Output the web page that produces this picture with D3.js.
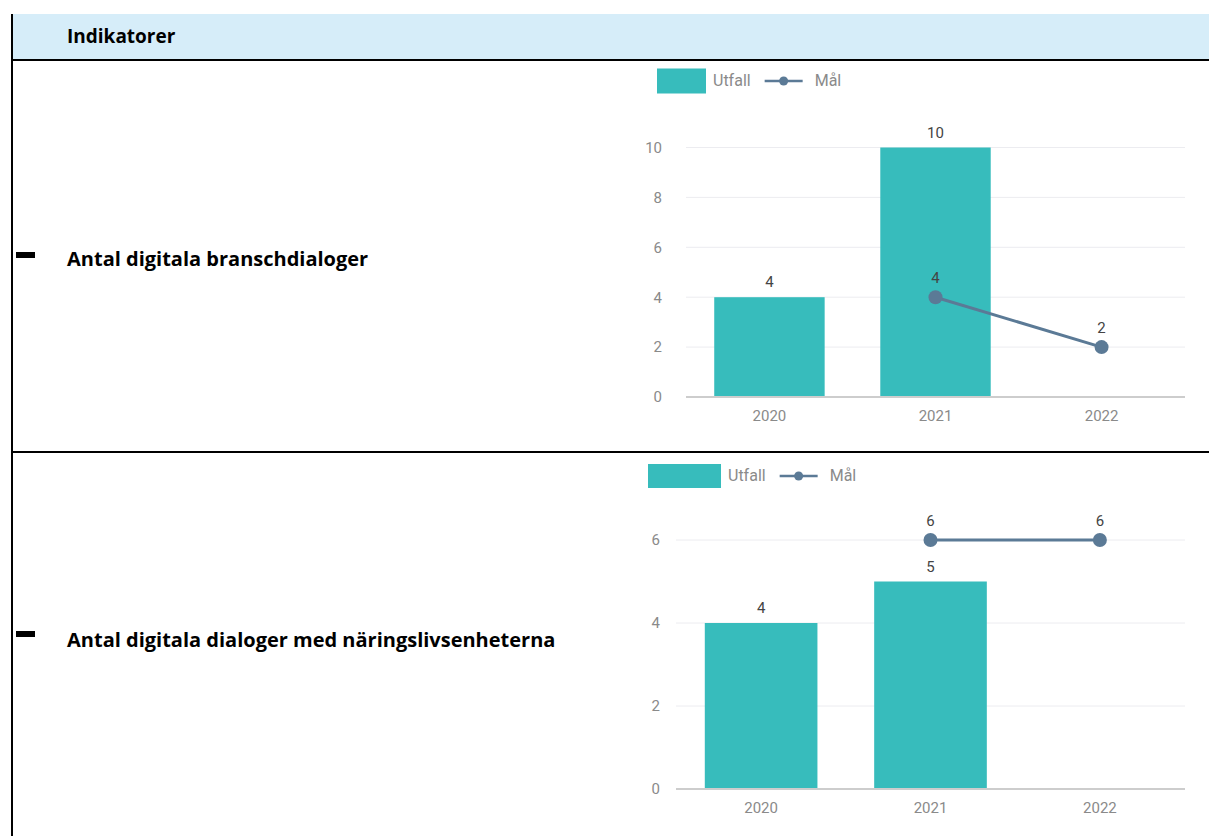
<!DOCTYPE html>
<html>
<head>
<meta charset="utf-8">
<script src="https://cdn.jsdelivr.net/npm/d3@7"></script>
<style>
  body { margin: 0; background: #fff; }
  svg { display: block; }
</style>
</head>
<body>
<div id="page"></div>
<script>
// Data
const years = ['2020', '2021', '2022'];
const legendLabels = ['Utfall', 'Mål'];
const headerLabel = 'Indikatorer';
const rowLabels = ['Antal digitala branschdialoger', 'Antal digitala dialoger med näringslivsenheterna'];

const utfall1 = [4, 10, null];
const mal1 = [null, 4, 2];
const yTicks1 = [0, 2, 4, 6, 8, 10];

const utfall2 = [4, 5, null];
const mal2 = [null, 6, 6];
const yTicks2 = [0, 2, 4, 6];

const barColor = '#37bcbc';
const lineColor = '#5b7a96';

const width = 1209, height = 836;
const svg = d3.select('#page').append('svg')
    .attr('width', width)
    .attr('height', height);

svg.append('rect').attr('width', width).attr('height', height).attr('fill', '#fff');

// Table frame
svg.append('rect')
    .attr('x', 12).attr('y', 14)
    .attr('width', width - 12).attr('height', 45)
    .attr('fill', '#d6edf9');

svg.append('line').attr('x1', 12).attr('x2', 12).attr('y1', 14).attr('y2', height)
    .attr('stroke', '#000').attr('stroke-width', 2);
[60, 452].forEach(y => {
    svg.append('line').attr('x1', 11).attr('x2', width).attr('y1', y).attr('y2', y)
        .attr('stroke', '#000').attr('stroke-width', 2);
});

const labelFont = "'Open Sans', 'Noto Sans', sans-serif";

svg.append('text')
    .attr('x', 67).attr('y', 43)
    .style('font-family', labelFont)
    .style('font-weight', 700)
    .style('font-size', '19px')
    .text(headerLabel);

const rowTextY = [266, 647];
const dashY = [252, 631];
rowLabels.forEach((label, i) => {
    svg.append('rect')
        .attr('x', 16).attr('y', dashY[i])
        .attr('width', 19).attr('height', 6)
        .attr('fill', '#000');
    svg.append('text')
        .attr('x', 67).attr('y', rowTextY[i])
        .style('font-family', labelFont)
        .style('font-weight', 700)
        .style('font-size', '20px')
        .text(label);
});

const tickFont = { family: 'Roboto, sans-serif', size: '15px' };

function drawChart(cfg) {
    const g = svg.append('g');

    const x = d3.scaleBand()
        .domain(years)
        .range(cfg.xRange)
        .paddingInner(0.335)
        .paddingOuter(0.17);

    const y = d3.scaleLinear()
        .domain(cfg.yDomain)
        .range(cfg.yRange);

    // Gridlines + y labels
    const yAxis = d3.axisLeft(y).tickValues(cfg.yTicks).tickFormat(d3.format('d')).tickSize(0).tickPadding(cfg.yPad);
    const ya = g.append('g')
        .attr('transform', `translate(${cfg.gridStart},0)`)
        .call(yAxis);
    ya.select('.domain').remove();
    ya.selectAll('text')
        .style('font-family', tickFont.family)
        .style('font-size', tickFont.size)
        .attr('fill', '#8a8a8a');

    g.selectAll('.grid')
        .data(cfg.yTicks.filter(d => d !== 0))
        .enter().append('line')
        .attr('class', 'grid')
        .attr('x1', cfg.gridStart).attr('x2', cfg.xRange[1])
        .attr('y1', d => y(d)).attr('y2', d => y(d))
        .attr('stroke', '#ececf0').attr('stroke-width', 1);

    // Bars
    const bars = years.map((yr, i) => ({ year: yr, value: cfg.utfall[i] })).filter(d => d.value != null);
    g.selectAll('.bar')
        .data(bars)
        .enter().append('rect')
        .attr('class', 'bar')
        .attr('x', d => x(d.year))
        .attr('y', d => y(d.value))
        .attr('width', x.bandwidth())
        .attr('height', d => y(0) - y(d.value))
        .attr('fill', barColor);

    g.selectAll('.bar-label')
        .data(bars)
        .enter().append('text')
        .attr('class', 'bar-label')
        .attr('x', d => x(d.year) + x.bandwidth() / 2)
        .attr('y', d => y(d.value) - 10)
        .attr('text-anchor', 'middle')
        .style('font-family', tickFont.family)
        .style('font-size', tickFont.size)
        .attr('fill', '#444')
        .text(d => d.value);

    // Baseline
    g.append('line')
        .attr('x1', cfg.gridStart).attr('x2', cfg.xRange[1])
        .attr('y1', y(0)).attr('y2', y(0))
        .attr('stroke', '#cdcdcd').attr('stroke-width', 2);

    // X axis labels
    const xAxis = d3.axisBottom(x).tickSize(0).tickPadding(13);
    const xa = g.append('g')
        .attr('transform', `translate(0,${y(0)})`)
        .call(xAxis);
    xa.select('.domain').remove();
    xa.selectAll('text')
        .style('font-family', tickFont.family)
        .style('font-size', tickFont.size)
        .attr('fill', '#8a8a8a');

    // Mål line
    const pts = years.map((yr, i) => ({ year: yr, value: cfg.mal[i] })).filter(d => d.value != null);
    const line = d3.line()
        .x(d => x(d.year) + x.bandwidth() / 2)
        .y(d => y(d.value));
    g.append('path')
        .datum(pts)
        .attr('d', line)
        .attr('fill', 'none')
        .attr('stroke', lineColor)
        .attr('stroke-width', 3);
    g.selectAll('.pt')
        .data(pts)
        .enter().append('circle')
        .attr('class', 'pt')
        .attr('cx', d => x(d.year) + x.bandwidth() / 2)
        .attr('cy', d => y(d.value))
        .attr('r', 7)
        .attr('fill', lineColor);
    g.selectAll('.pt-label')
        .data(pts)
        .enter().append('text')
        .attr('class', 'pt-label')
        .attr('x', d => x(d.year) + x.bandwidth() / 2)
        .attr('y', d => y(d.value) - 14)
        .attr('text-anchor', 'middle')
        .style('font-family', tickFont.family)
        .style('font-size', tickFont.size)
        .attr('fill', '#444')
        .text(d => d.value);

    // Legend
    const lg = g.append('g').attr('transform', `translate(${cfg.legend.x},${cfg.legend.y})`);
    lg.append('rect')
        .attr('x', 0).attr('y', -cfg.legend.h / 2)
        .attr('width', cfg.legend.w).attr('height', cfg.legend.h)
        .attr('fill', barColor);
    const t1 = lg.append('text')
        .attr('x', cfg.legend.w + 7).attr('y', 5)
        .style('font-family', tickFont.family)
        .style('font-size', '16px')
        .attr('fill', '#8a8a8a')
        .text(legendLabels[0]);
    const lx = cfg.legend.w + 7 + t1.node().getComputedTextLength() + 14;
    lg.append('line')
        .attr('x1', lx).attr('x2', lx + 38)
        .attr('y1', 0).attr('y2', 0)
        .attr('stroke', lineColor).attr('stroke-width', 2.5);
    lg.append('circle')
        .attr('cx', lx + 19).attr('cy', 0).attr('r', 4.5)
        .attr('fill', lineColor);
    lg.append('text')
        .attr('x', lx + 50).attr('y', 5)
        .style('font-family', tickFont.family)
        .style('font-size', '16px')
        .attr('fill', '#8a8a8a')
        .text(legendLabels[1]);
}

drawChart({
    utfall: utfall1, mal: mal1, yTicks: yTicks1,
    xRange: [686, 1185], gridStart: 686, yPad: 24,
    yDomain: [0, 11], yRange: [397, 397 - 11 * 24.95],
    legend: { x: 657, y: 81, w: 49, h: 25 }
});

drawChart({
    utfall: utfall2, mal: mal2, yTicks: yTicks2,
    xRange: [676, 1185], gridStart: 676, yPad: 16,
    yDomain: [0, 7], yRange: [789, 789 - 7 * 41.5],
    legend: { x: 648, y: 476, w: 73, h: 24 }
});
</script>
</body>
</html>
